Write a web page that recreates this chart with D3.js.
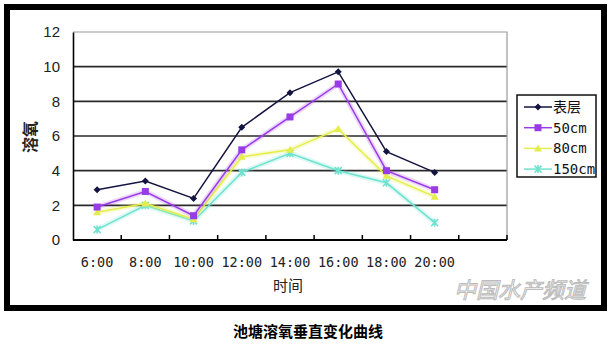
<!DOCTYPE html>
<html>
<head>
<meta charset="utf-8">
<script src="https://d3js.org/d3.v7.min.js"></script>
<style>
  body { margin: 0; background: #fff; }
  text { font-family: 'DejaVu Sans Mono', monospace; }
  .cjk { font-family: 'Noto Sans CJK SC', sans-serif; }
</style>
</head>
<body>
<script>
// categories (last slot is an empty Excel category)
var times = ["6:00", "8:00", "10:00", "12:00", "14:00", "16:00", "18:00", "20:00", ""];
var surface = [2.9, 3.4, 2.4, 6.5, 8.5, 9.7, 5.1, 3.9];
var cm50 = [1.9, 2.8, 1.4, 5.2, 7.1, 9.0, 4.0, 2.9];
var cm80 = [1.6, 2.1, 1.2, 4.8, 5.2, 6.4, 3.7, 2.5];
var cm150 = [0.6, 2.0, 1.1, 3.9, 5.0, 4.0, 3.3, 1.0];
var yTicks = [0, 2, 4, 6, 8, 10, 12];

var series = [
  {name: "表层", values: surface, color: "#141440", marker: "diamond", glow: 0},
  {name: "50cm", values: cm50, color: "#9a3be8", marker: "square", glow: 0.2},
  {name: "80cm", values: cm80, color: "#e4ee4a", marker: "triangle", glow: 0.25},
  {name: "150cm", values: cm150, color: "#6fe3cf", marker: "cross", glow: 0.25}
];

var W = 613, H = 344;
var plot = {left: 73, right: 507, top: 32, bottom: 240};

var svg = d3.select("body").append("svg")
    .attr("width", W).attr("height", H);

// outer frame
svg.append("rect")
    .attr("x", 7).attr("y", 7).attr("width", 597).attr("height", 301)
    .attr("fill", "#fff").attr("stroke", "#000").attr("stroke-width", 6);

var x = d3.scaleBand().domain(times).range([plot.left, plot.right]);
var y = d3.scaleLinear().domain([0, 12]).range([plot.bottom, plot.top]);

// grid lines
svg.append("g").selectAll("line")
    .data(yTicks.filter(function(d) { return d > 0 && d < 12; }))
    .enter().append("line")
    .attr("x1", plot.left).attr("x2", plot.right)
    .attr("y1", function(d) { return y(d); })
    .attr("y2", function(d) { return y(d); })
    .attr("stroke", "#2a2a2a").attr("stroke-width", 1.6);

// plot border top and right
svg.append("path")
    .attr("d", "M" + plot.left + "," + y(12) + "H" + plot.right + "V" + plot.bottom)
    .attr("fill", "none").attr("stroke", "#9a9a9a").attr("stroke-width", 1.2);

// y axis
var yAxis = svg.append("g")
    .attr("transform", "translate(" + plot.left + ",0)")
    .call(d3.axisLeft(y).tickValues(yTicks).tickSize(0).tickPadding(13));
yAxis.select(".domain").attr("stroke", "#000").attr("stroke-width", 1.6);
yAxis.selectAll("text")
    .style("font-family", "'Liberation Sans', sans-serif")
    .attr("font-size", 15).attr("fill", "#222");

// x axis with inward ticks at band boundaries
svg.append("line")
    .attr("x1", plot.left).attr("x2", plot.right)
    .attr("y1", plot.bottom).attr("y2", plot.bottom)
    .attr("stroke", "#000").attr("stroke-width", 1.8);
svg.append("g").selectAll("line")
    .data(times.slice(1))
    .enter().append("line")
    .attr("x1", function(d) { return x(d); })
    .attr("x2", function(d) { return x(d); })
    .attr("y1", plot.bottom).attr("y2", plot.bottom - 5)
    .attr("stroke", "#000").attr("stroke-width", 1.5);
svg.append("line")
    .attr("x1", plot.right).attr("x2", plot.right)
    .attr("y1", plot.bottom).attr("y2", plot.bottom - 5)
    .attr("stroke", "#000").attr("stroke-width", 1.5);
svg.append("g").selectAll("text")
    .data(times.filter(function(d) { return d !== ""; }))
    .enter().append("text")
    .attr("x", function(d) { return x(d) + x.bandwidth() / 2; })
    .attr("y", 267)
    .attr("text-anchor", "middle")
    .attr("font-size", 13.5).attr("fill", "#222")
    .text(function(d) { return d; });

// axis titles
svg.append("text").attr("class", "cjk")
    .attr("x", 288).attr("y", 291)
    .attr("text-anchor", "middle").attr("font-size", 15).attr("fill", "#222")
    .text("时间");
svg.append("text").attr("class", "cjk")
    .attr("transform", "translate(36,137) rotate(-90)")
    .attr("text-anchor", "middle").attr("font-size", 16).attr("font-weight", 700).attr("fill", "#222")
    .text("溶氧");

// markers
function drawMarker(g, type, color) {
  if (type === "diamond") {
    g.append("path").attr("d", "M0,-3.5L3.5,0L0,3.5L-3.5,0Z").attr("fill", color);
  } else if (type === "square") {
    g.append("rect").attr("x", -3.5).attr("y", -3.5).attr("width", 7).attr("height", 7).attr("fill", color);
  } else if (type === "triangle") {
    g.append("path").attr("d", "M0,-4L4,3L-4,3Z").attr("fill", color);
  } else {
    g.append("path").attr("d", "M-3.5,-3.5L3.5,3.5M3.5,-3.5L-3.5,3.5M0,-4V4")
      .attr("stroke", color).attr("stroke-width", 1.6).attr("fill", "none");
  }
}

var line = d3.line()
    .x(function(d, i) { return x(times[i]) + x.bandwidth() / 2; })
    .y(function(d) { return y(d); });

// draw from back to front so the surface line is on top
series.slice().reverse().forEach(function(s) {
  if (s.glow > 0) {
    // soft glow like the blurred original
    svg.append("path").datum(s.values)
        .attr("d", line).attr("fill", "none")
        .attr("stroke", s.color).attr("stroke-opacity", s.glow).attr("stroke-width", 5);
  }
  svg.append("path").datum(s.values)
      .attr("d", line).attr("fill", "none")
      .attr("stroke", s.color).attr("stroke-width", 1.5);
  svg.append("g").selectAll("g")
      .data(s.values)
      .enter().append("g")
      .attr("transform", function(d, i) {
        return "translate(" + (x(times[i]) + x.bandwidth() / 2) + "," + y(d) + ")";
      })
      .each(function() { drawMarker(d3.select(this), s.marker, s.color); });
});

// legend
var legend = svg.append("g");
legend.append("rect")
    .attr("x", 517).attr("y", 95).attr("width", 79).attr("height", 82)
    .attr("fill", "#fff").attr("stroke", "#111").attr("stroke-width", 1.5);
var entry = legend.selectAll("g.entry")
    .data(series).enter().append("g").attr("class", "entry")
    .attr("transform", function(d, i) { return "translate(0," + (107 + i * 20.7) + ")"; });
entry.append("line")
    .attr("x1", 524).attr("x2", 552)
    .attr("stroke", function(d) { return d.color; }).attr("stroke-width", 1.5);
entry.append("g").attr("transform", "translate(538,0)")
    .each(function(d) { drawMarker(d3.select(this), d.marker, d.color); });
entry.append("text")
    .attr("x", 553).attr("y", 5)
    .attr("font-size", 14).attr("fill", "#111")
    .attr("class", function(d, i) { return i === 0 ? "cjk" : null; })
    .text(function(d) { return d.name; });

// watermark
svg.append("text").attr("class", "cjk")
    .attr("x", 520).attr("y", 298)
    .attr("text-anchor", "middle").attr("font-size", 22).attr("font-style", "italic")
    .attr("fill", "#fff").attr("stroke", "#bbb").attr("stroke-width", 1)
    .text("中国水产频道");

// caption
svg.append("text").attr("class", "cjk")
    .attr("x", 308).attr("y", 337)
    .attr("text-anchor", "middle").attr("font-size", 15).attr("font-weight", 700).attr("fill", "#000")
    .text("池塘溶氧垂直变化曲线");
</script>
</body>
</html>
